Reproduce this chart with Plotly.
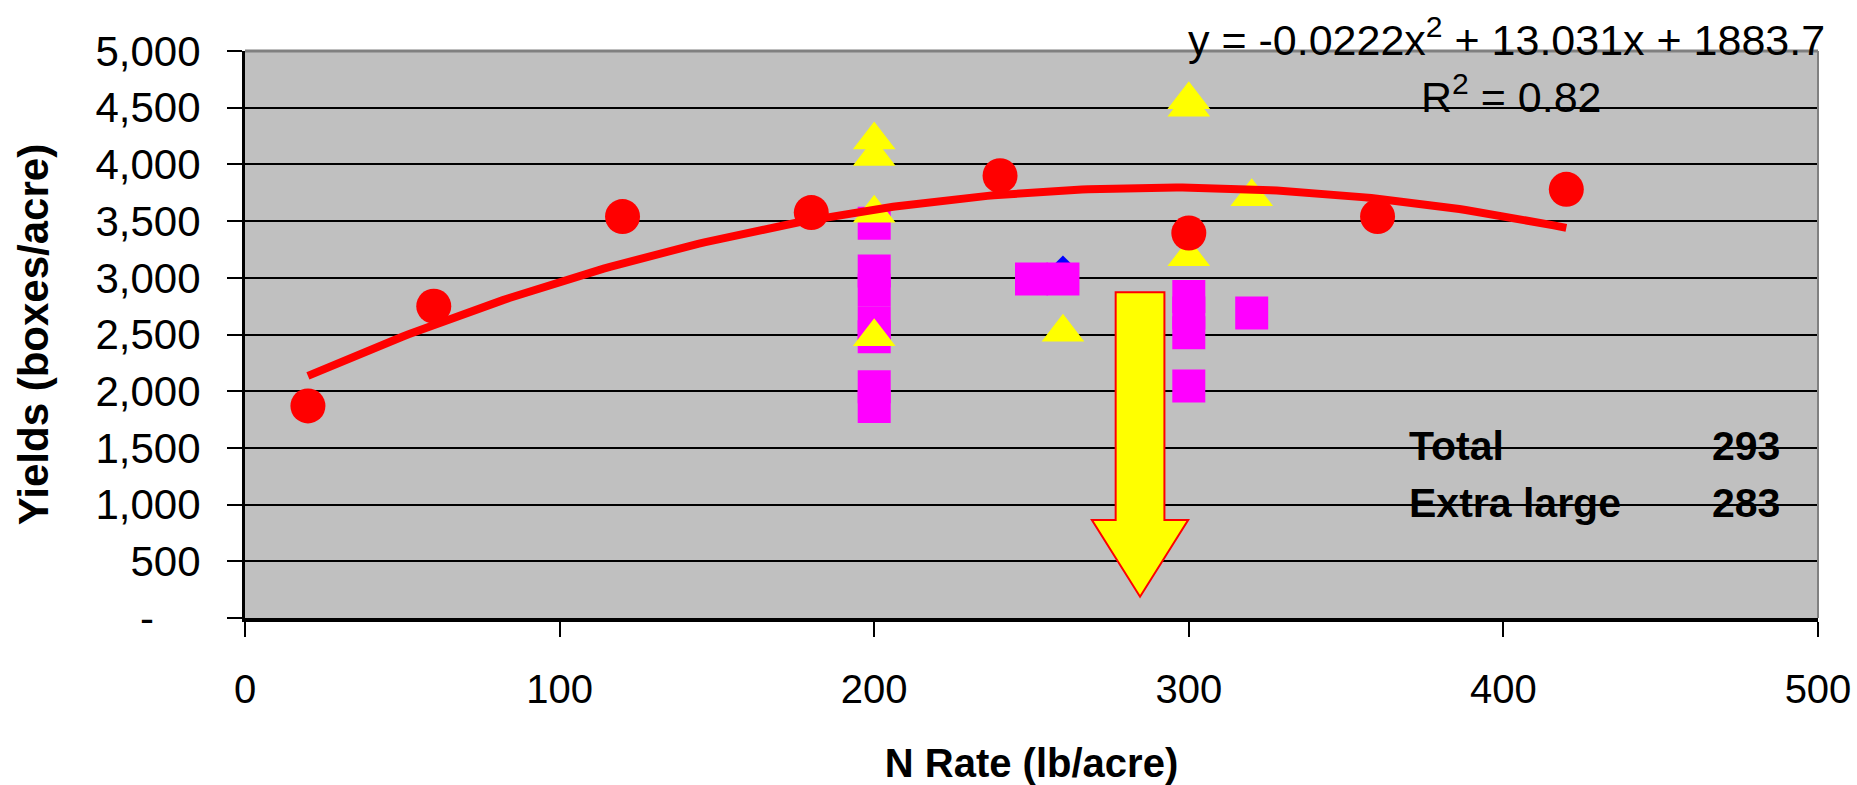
import plotly.graph_objects as go
import numpy as np

# ---------------- data ----------------
circle_x = [20, 60, 120, 180, 240, 300, 360, 420]
circle_y = [1870, 2750, 3540, 3575, 3900, 3395, 3540, 3780]

triangle_x = [200, 200, 200, 200, 260, 300, 300, 300, 320]
triangle_y = [4215, 4070, 3570, 2480, 2520, 4570, 4505, 3185, 3715]

square_x = [200, 200, 200, 200, 200, 200, 200, 250, 260, 300, 300, 300, 300, 320]
square_y = [3480, 3060, 2890, 2600, 2480, 2040, 1865, 2990, 2990, 2835, 2690, 2515, 2045, 2690]

diamond_x = [200, 260]
diamond_y = [3000, 3070]

# quadratic trendline shown on the chart: y = a x^2 + b x + c
trend_coef = [-0.0222, 13.031, 1883.7]
trend_start, trend_end = 20, 420

x_ticks = [0, 100, 200, 300, 400, 500]
y_ticks = [0, 500, 1000, 1500, 2000, 2500, 3000, 3500, 4000, 4500, 5000]
y_ticktext = ["-\u00a0\u00a0\u00a0\u00a0", "500", "1,000", "1,500", "2,000", "2,500",
              "3,000", "3,500", "4,000", "4,500", "5,000"]

table_labels = ["Total", "Extra large"]
table_values = ["293", "283"]
table_rows_y = [1500, 1000]

# down arrow annotation (data coordinates)
arrow_cx = 284.5
arrow_shaft_half = 7.75
arrow_head_half = 15.3
arrow_top, arrow_shoulder, arrow_tip = 2872, 864, 188

FONT = "Liberation Sans, Arial, sans-serif"
# --------------------------------------

trend_x = np.arange(trend_start, trend_end + 1, 2)
trend_y = np.polyval(trend_coef, trend_x)

fig = go.Figure()
fig.add_trace(go.Scatter(x=diamond_x, y=diamond_y, mode="markers",
                         marker=dict(symbol="diamond", size=22, color="#0000FF"),
                         showlegend=False, hoverinfo="x+y"))
fig.add_trace(go.Scatter(x=square_x, y=square_y, mode="markers",
                         marker=dict(symbol="square", size=33, color="#FF00FF"),
                         showlegend=False, hoverinfo="x+y"))
fig.add_trace(go.Scatter(x=triangle_x, y=triangle_y, mode="markers",
                         marker=dict(symbol="triangle-up", size=37, color="#FFFF00"),
                         showlegend=False, hoverinfo="x+y"))
fig.add_trace(go.Scatter(x=circle_x, y=circle_y, mode="markers",
                         marker=dict(symbol="circle", size=35, color="#FF0000"),
                         showlegend=False, hoverinfo="x+y"))
fig.add_trace(go.Scatter(x=trend_x, y=trend_y, mode="lines",
                         line=dict(color="#FF0000", width=8),
                         showlegend=False, hoverinfo="skip"))

# arrow
ax = arrow_cx
path = (f"M {ax-arrow_shaft_half},{arrow_top} L {ax+arrow_shaft_half},{arrow_top} "
        f"L {ax+arrow_shaft_half},{arrow_shoulder} L {ax+arrow_head_half},{arrow_shoulder} "
        f"L {ax},{arrow_tip} L {ax-arrow_head_half},{arrow_shoulder} "
        f"L {ax-arrow_shaft_half},{arrow_shoulder} Z")
fig.add_shape(type="path", path=path, xref="x", yref="y",
              fillcolor="#FFFF00", line=dict(color="#FF0000", width=2), layer="above")

# plot border top/right (gray)
fig.add_shape(type="line", xref="paper", yref="paper", x0=0, x1=1, y0=1, y1=1,
              line=dict(color="#808080", width=3), layer="above")
fig.add_shape(type="line", xref="paper", yref="paper", x0=1, x1=1, y0=0, y1=1,
              line=dict(color="#808080", width=2), layer="above")

annotations = [
    dict(text="y = -0.0222x<sup>2</sup> + 13.031x + 1883.7", x=401, xref="x",
         y=1.024, yref="paper", xanchor="center", yanchor="middle", showarrow=False,
         font=dict(family=FONT, size=43, color="black")),
    dict(text="R<sup>2</sup> = 0.82", x=402.5, xref="x", y=4620, yref="y",
         xanchor="center", yanchor="middle", showarrow=False,
         font=dict(family=FONT, size=43, color="black")),
]
for lab, val, yy in zip(table_labels, table_values, table_rows_y):
    annotations.append(dict(text=f"<b>{lab}</b>", x=369.5, xref="x", y=yy, yref="y",
                            xanchor="left", yanchor="middle", showarrow=False, yshift=2,
                            font=dict(family=FONT, size=41, color="black")))
    annotations.append(dict(text=f"<b>{val}</b>", x=488.5, xref="x", y=yy, yref="y",
                            xanchor="right", yanchor="middle", showarrow=False, yshift=2,
                            font=dict(family=FONT, size=41, color="black")))

fig.update_layout(
    width=1857, height=785,
    margin=dict(l=245, r=39, t=51, b=167, pad=0, autoexpand=False),
    paper_bgcolor="white", plot_bgcolor="#C0C0C0",
    font=dict(family=FONT, color="black"),
    annotations=annotations,
    showlegend=False,
)
fig.update_xaxes(
    range=[0, 500], tickvals=x_ticks, ticktext=[str(v) for v in x_ticks],
    showgrid=False, zeroline=False, automargin=False,
    showline=True, linecolor="black", linewidth=4,
    ticks="outside", ticklen=15, tickwidth=2, tickcolor="black",
    tickfont=dict(family=FONT, size=40, color="black"), ticklabelstandoff=18,
    title=dict(text="<b>N Rate (lb/acre)</b>", font=dict(family=FONT, size=40, color="black"),
               standoff=56),
)
fig.update_yaxes(
    range=[0, 5000], tickvals=y_ticks, ticktext=y_ticktext,
    showgrid=True, gridcolor="black", gridwidth=2, zeroline=False, automargin=False,
    showline=True, linecolor="black", linewidth=3,
    ticks="outside", ticklen=15, tickwidth=2, tickcolor="black",
    tickfont=dict(family=FONT, size=42, color="black"), ticklabelstandoff=18,
    title=dict(text="<b>Yields (boxes/acre)</b>", font=dict(family=FONT, size=42, color="black"),
               standoff=34),
)

fig.write_html("out.html")
